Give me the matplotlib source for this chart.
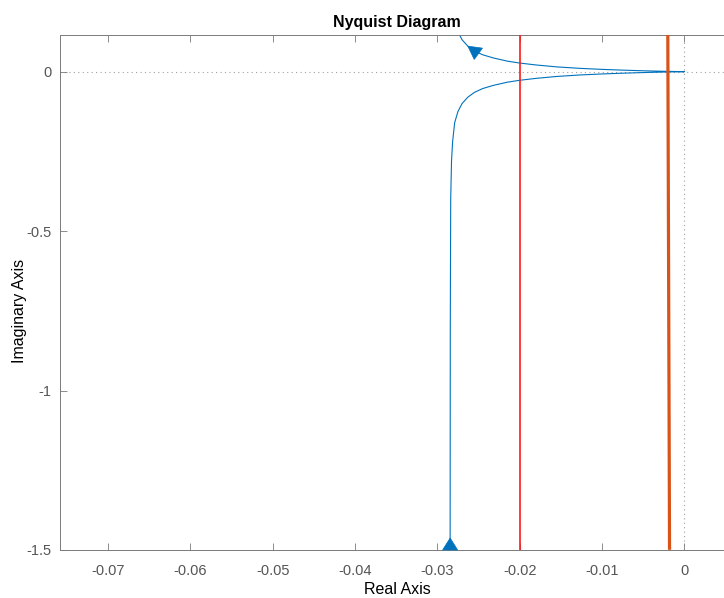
import numpy as np
import matplotlib.pyplot as plt
from matplotlib.patches import Polygon
from matplotlib.transforms import IdentityTransform

plt.rcParams['font.family'] = ['Liberation Sans', 'DejaVu Sans']

# Nyquist curve, lower branch (w from 0+ to inf)
re_lower = [-0.02845, -0.02843, -0.02838, -0.02828, -0.02815, -0.0279, -0.0275,
            -0.0270, -0.0263, -0.0255, -0.0245, -0.0232, -0.0215, -0.0200,
            -0.0180, -0.0155, -0.0127, -0.0100, -0.0075, -0.0050, -0.0030,
            -0.0015, 0.0]
im_lower = [-1.5, -0.80, -0.40, -0.28, -0.22, -0.16, -0.125, -0.100, -0.080,
            -0.065, -0.053, -0.043, -0.033, -0.027, -0.021, -0.015, -0.0104,
            -0.0072, -0.0048, -0.0028, -0.0015, -0.0007, 0.0]

# extra vertical lines
red_x = [-0.02, -0.02]
red_y = [-1.5, 0.2]
orange_x = [-0.0018, -0.00202]
orange_y = [-1.4945, 0.2]

xticks = [-0.07, -0.06, -0.05, -0.04, -0.03, -0.02, -0.01, 0]
xticklabels = ['-0.07', '-0.06', '-0.05', '-0.04', '-0.03', '-0.02', '-0.01', '0']
yticks = [-1.5, -1, -0.5, 0]
yticklabels = ['-1.5', '-1', '-0.5', '0']

blue = '#0072BD'

re_lower = np.array(re_lower)
im_lower = np.array(im_lower)
# negative frequencies: mirror image, going from origin back up
re_upper = re_lower[::-1]
im_upper = -im_lower[::-1]
re_all = np.concatenate([re_lower, re_upper[1:]])
im_all = np.concatenate([im_lower, im_upper[1:]])

# axes run off the right edge of the picture (cropped like the original)
fig = plt.figure(figsize=(7.24, 5.98), dpi=100)
ax = fig.add_axes([0.0825, 0.0803, 1.0333, 0.8607])
ax.set_xlim(-0.07587, 0.015)
ax.set_ylim(-1.5, 0.1141)

# dotted zero lines
ax.axhline(0, color='#a0a0a0', lw=0.8, ls=(0, (1, 3)), zorder=1)
ax.axvline(0, color='#a0a0a0', lw=0.8, ls=(0, (1, 3)), zorder=1)

ax.plot(re_all, im_all, color=blue, lw=0.8, zorder=2)
ax.plot(red_x, red_y, color='#ff1a1a', lw=1.2, zorder=3)
ax.plot(orange_x, orange_y, color='#D95319', lw=2.3, zorder=3)


def arrow_head(p, q, at_tip, length=12, width=15):
    # triangle in pixel space, pointing from p towards q
    a = ax.transData.transform(p)
    b = ax.transData.transform(q)
    d = (b - a) / np.hypot(*(b - a))
    n = np.array([-d[1], d[0]])
    if at_tip:
        tip = b
        base = b - d * length
    else:
        base = a
        tip = a + d * length
    pts = [tip, base + n * width / 2, base - n * width / 2]
    ax.add_patch(Polygon(pts, closed=True, transform=IdentityTransform(),
                         facecolor=blue, edgecolor=blue, lw=0.5,
                         clip_on=False, zorder=4))


# arrow at the start of the curve (bottom) and on the upper branch
arrow_head((re_lower[0], im_lower[0]), (re_lower[1], im_lower[1]), at_tip=False)
k = len(re_lower) - 1 + 14
arrow_head((re_all[k - 1], im_all[k - 1]), (re_all[k], im_all[k]), at_tip=True,
           length=13, width=14)

ax.set_xticks(xticks)
ax.set_xticklabels(xticklabels)
ax.set_yticks(yticks)
ax.set_yticklabels(yticklabels)
ax.tick_params(direction='in', top=True, right=True, length=5, width=0.6,
               color='#7a7a7a', labelcolor='#555555', labelsize=10.5)
ax.tick_params(axis='x', pad=10)
ax.tick_params(axis='y', pad=6)
for s in ax.spines.values():
    s.set_color('#7a7a7a')
    s.set_linewidth(0.7)

# axes is 748 px wide, 515 px high; the visible centre sits at x=397 px
ax.set_title('Nyquist Diagram', fontsize=11.5, fontweight='bold', pad=6,
             x=(397 - 59.7) / 748.1)
ax.set_xlabel('Real Axis', fontsize=11.5)
ax.set_ylabel('Imaginary Axis', fontsize=11.5)
ax.xaxis.set_label_coords((397 - 59.7) / 748.1, -(590 - 550) / 514.7)
ax.yaxis.set_label_coords((19 - 59.7) / 748.1, (550 - 311) / 514.7)
ax.xaxis.label.set_va('center')
ax.yaxis.label.set_va('center')

fig.savefig('out.png', dpi=100)
